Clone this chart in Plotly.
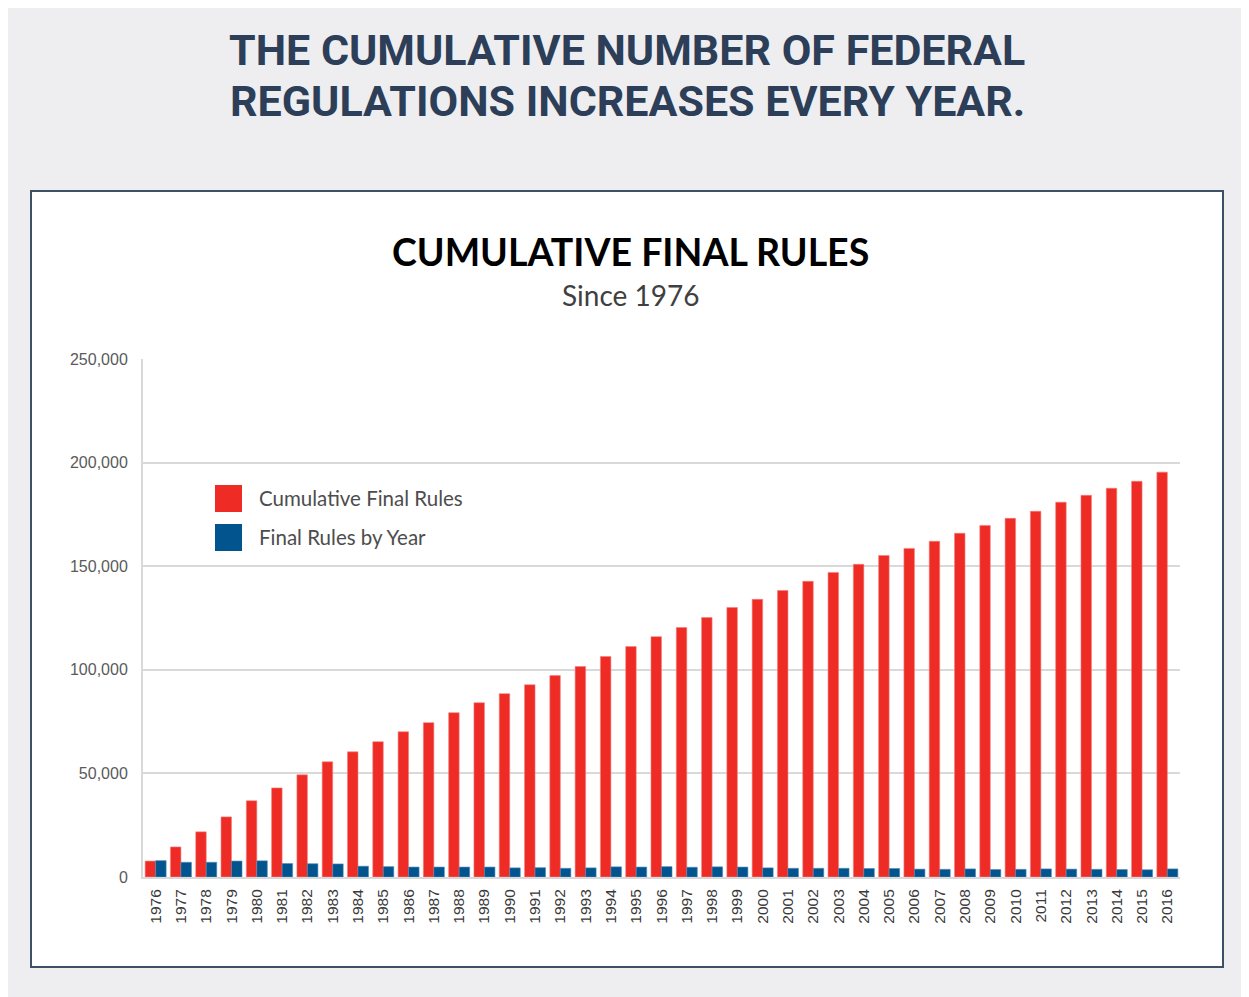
import plotly.graph_objects as go

years = [str(y) for y in range(1976, 2017)]
cumulative = [7700, 14500, 21800, 29000, 36800, 43000, 49300, 55600, 60400, 65300,
              70100, 74500, 79300, 84100, 88500, 92800, 97200, 101600, 106400, 111200,
              116000, 120400, 125200, 130100, 134000, 138300, 142700, 147000, 150900, 155200,
              158600, 162000, 165900, 169700, 173100, 176500, 180900, 184200, 187600, 191000,
              195400]
by_year = [7900, 7100, 7100, 7700, 7800, 6500, 6400, 6300, 5200, 5000,
           4800, 4800, 4800, 4800, 4400, 4500, 4200, 4400, 4900, 4800,
           5000, 4700, 4900, 4800, 4400, 4200, 4200, 4200, 4100, 4100,
           3800, 3700, 3900, 3600, 3700, 3900, 3800, 3700, 3600, 3500,
           3900]
series_names = ["Cumulative Final Rules", "Final Rules by Year"]
y_ticks = [0, 50000, 100000, 150000, 200000, 250000]

RED = "#ee2b25"
BLUE = "#02548f"
OFF = 8  # page body margin
W, H = 1249 - OFF, 997 - OFF
# plot area in page pixels
L, R, T, B = 143, 1180, 359, 877

def px(x):
    return (x - L) / (R - L)

def py(y):
    return (B - y) / (B - T)

fig = go.Figure()
fig.add_trace(go.Bar(x=years, y=cumulative, name=series_names[0],
                     marker=dict(color=RED, line=dict(color="#f4807c", width=0.6)),
                     showlegend=False))
fig.add_trace(go.Bar(x=years, y=by_year, name=series_names[1],
                     marker=dict(color=BLUE, line=dict(color="#4f87b3", width=0.6)),
                     showlegend=False))

shapes = [
    dict(type="rect", xref="paper", yref="paper", x0=px(31), x1=px(1223), y0=py(191), y1=py(967),
         fillcolor="white", line=dict(color="#3d5068", width=2), layer="below"),
    dict(type="rect", xref="paper", yref="paper", x0=px(215), x1=px(242), y0=py(485), y1=py(512),
         fillcolor=RED, line=dict(width=0)),
    dict(type="rect", xref="paper", yref="paper", x0=px(215), x1=px(242), y0=py(524), y1=py(551),
         fillcolor=BLUE, line=dict(width=0)),
]

head_font = dict(family="Roboto", size=43, color="#2c3e58", weight="bold")
legend_font = dict(family="Lato", size=20.5, color="#4d4d4d")
annotations = [
    dict(text="THE CUMULATIVE NUMBER OF FEDERAL", x=px(627), y=py(50), xref="paper", yref="paper",
         showarrow=False, font=head_font, xanchor="center", yanchor="middle"),
    dict(text="REGULATIONS INCREASES EVERY YEAR.", x=px(627), y=py(101), xref="paper", yref="paper",
         showarrow=False, font=head_font, xanchor="center", yanchor="middle"),
    dict(text="CUMULATIVE FINAL RULES", x=px(630), y=py(251), xref="paper", yref="paper",
         showarrow=False, font=dict(family="Lato", size=37.5, color="#000000", weight="bold"),
         xanchor="center", yanchor="middle"),
    dict(text="Since 1976", x=px(630), y=py(295), xref="paper", yref="paper",
         showarrow=False, font=dict(family="Lato", size=28, color="#404040"),
         xanchor="center", yanchor="middle"),
    dict(text=series_names[0], x=px(257), y=py(498), xref="paper", yref="paper",
         showarrow=False, font=legend_font, xanchor="left", yanchor="middle"),
    dict(text=series_names[1], x=px(257), y=py(537), xref="paper", yref="paper",
         showarrow=False, font=legend_font, xanchor="left", yanchor="middle"),
]

fig.update_layout(
    width=W, height=H,
    margin=dict(l=L - OFF, r=1249 - R, t=T - OFF, b=997 - B, pad=0),
    paper_bgcolor="#eeeef0",
    plot_bgcolor="rgba(0,0,0,0)",
    barmode="group",
    bargap=0.17,
    bargroupgap=0,
    shapes=shapes,
    annotations=annotations,
    showlegend=False,
)
fig.update_xaxes(type="category", tickangle=-90, showgrid=False,
                 tickfont=dict(family="Liberation Sans", size=15.5, color="#3a3a3a"),
                 showline=True, linecolor="#d9d9d9", linewidth=2, ticks="", ticklabelstandoff=4)
fig.update_yaxes(range=[0, 250000], tickvals=y_ticks, tickformat=",",
                 showgrid=True, gridcolor="#d9d9d9", gridwidth=1.5,
                 zeroline=False, showline=True, linecolor="#d9d9d9", linewidth=2,
                 tickfont=dict(family="Liberation Sans", size=16, color="#5a5a5a"),
                 ticks="", ticklabelstandoff=10)

fig.write_html("out.html")
